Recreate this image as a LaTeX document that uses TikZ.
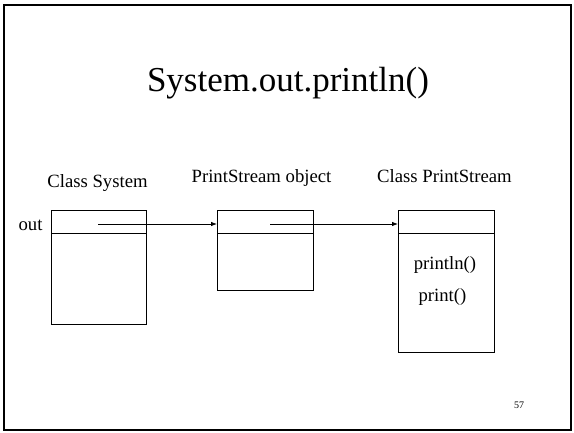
\documentclass[tikz,border=0pt]{standalone}
\usepackage{fontspec}
\setmainfont{Liberation Serif}
\usetikzlibrary{arrows.meta}
\begin{document}
\begin{tikzpicture}[x=1pt,y=-1pt,
  box/.style={draw, line width=0.8pt, inner sep=0pt, outer sep=0pt, anchor=north west, minimum width=96pt},
  lbl/.style={font=\fontsize{18.7}{20}\selectfont, anchor=base, inner sep=0pt},
  ptr/.style={line width=0.8pt, -{Latex[length=6pt,width=4.5pt]}}]
\useasboundingbox (0,0) rectangle (574,433);
\draw[line width=2pt] (4,5) rectangle (571,430);
\node[font=\fontsize{35}{40}\selectfont, anchor=base, inner sep=0pt] (title) at (288,92) {System.out.println()};
% Class System
\node[box, minimum width=95pt, minimum height=23pt] (sysTop) at (51,210) {};
\node[box, minimum width=95pt, minimum height=91pt] (sysBody) at (51,233) {};
\node[lbl] (sysLbl) at (97.5,188) {Class System};
\node[lbl] (outLbl) at (30.5,231) {out};
% PrintStream object
\node[box, minimum height=23pt] (objTop) at (217,210) {};
\node[box, minimum height=57pt] (objBody) at (217,233) {};
\node[lbl] (objLbl) at (261.5,183) {PrintStream object};
% Class PrintStream
\node[box, minimum height=23pt] (clsTop) at (398,210) {};
\node[box, minimum height=119pt] (clsBody) at (398,233) {};
\node[lbl] (clsLbl) at (444.5,183) {Class PrintStream};
\node[lbl] (m1) at (445,270) {println()};
\node[lbl] (m2) at (442.5,302) {print()};
\node[font=\fontsize{10}{12}\selectfont, anchor=base, inner sep=0pt] (page) at (519,409) {57};
% pointers
\coordinate (s1) at (98,224);
\coordinate (s2) at (270,224);
\draw[ptr] (s1) -- (s1 -| objTop.west);
\draw[ptr] (s2) -- (s2 -| clsTop.west);
\end{tikzpicture}
\end{document}
